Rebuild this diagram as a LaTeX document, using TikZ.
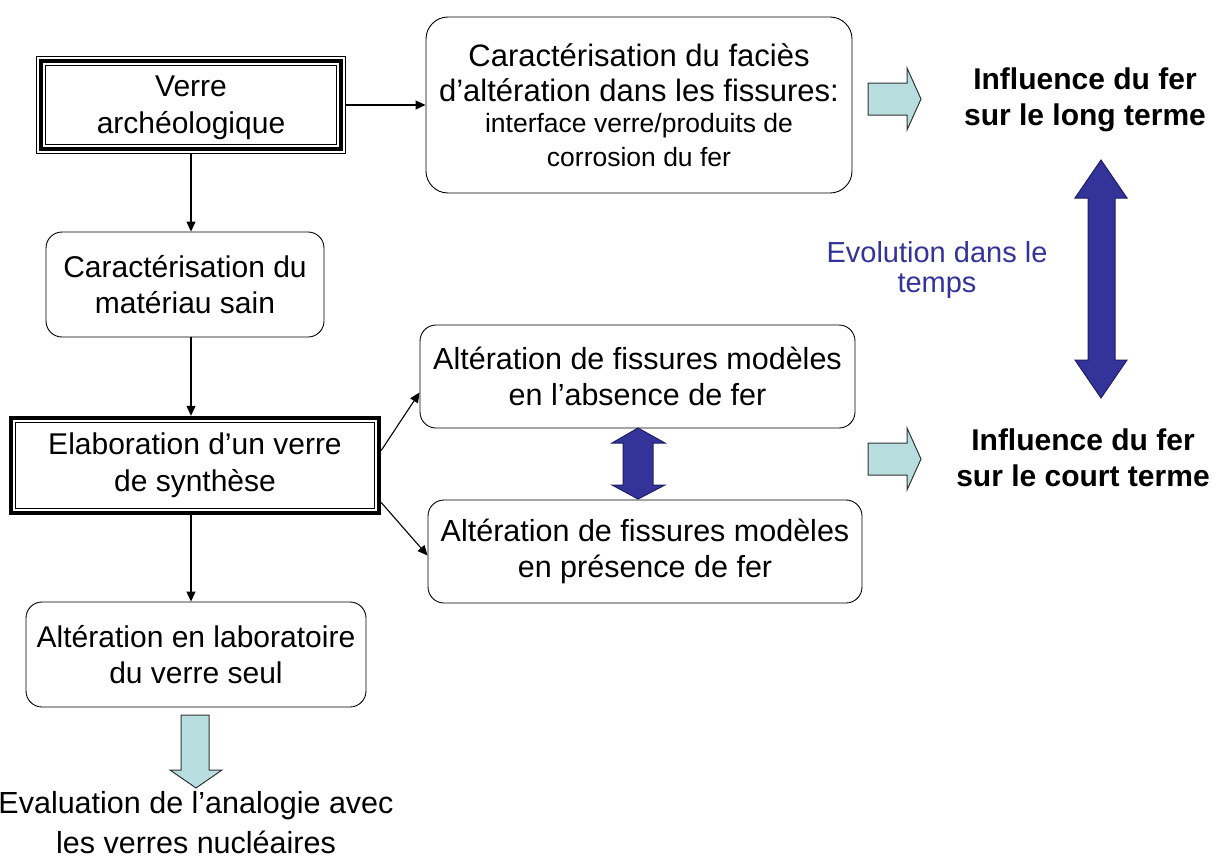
\documentclass[tikz,border=0pt]{standalone}
\usepackage{fontspec}
\setmainfont{Liberation Sans}
\usetikzlibrary{arrows.meta}
\definecolor{cyanfill}{HTML}{B8DEDF}
\definecolor{navyblue}{HTML}{333399}
\definecolor{navyline}{HTML}{1F1F66}
\begin{document}
\begin{tikzpicture}[x=1pt,y=-1pt,
  roundbox/.style={draw=black, line width=0.9pt, rounded corners=16pt, align=center, inner sep=0pt, font=\fontsize{30}{36}\selectfont},
  plainbox/.style={align=center, inner sep=0pt, font=\fontsize{30}{37}\selectfont},
  conn/.style={line width=1.1pt, -{Triangle[length=10pt,width=9pt]}},
  lightarrow/.style={draw=black!80, line width=1pt, fill=cyanfill},
  bluearrow/.style={draw=navyline, line width=1pt, fill=navyblue},
  outtext/.style={align=center, inner sep=0pt},
]
\useasboundingbox (0,0) rectangle (1216,860);
\fill[white] (0,0) rectangle (1216,860);

% Verre archeologique (triple border)
\node[plainbox, minimum width=308pt, minimum height=96pt, text depth=0pt] (verre) at (191,105) {Verre\\archéologique};
\draw[line width=0.8pt] (verre.north west) rectangle (verre.south east);
\draw[line width=4pt] ([shift={(4.5pt,-4.5pt)}]verre.north west) rectangle ([shift={(-4.5pt,4.5pt)}]verre.south east);
\draw[line width=0.8pt] ([shift={(8.5pt,-8.5pt)}]verre.north west) rectangle ([shift={(-8.5pt,8.5pt)}]verre.south east);

% Caracterisation du facies
\node[roundbox, rounded corners=22pt, minimum width=426pt, minimum height=176pt, font=\fontsize{31}{35}\selectfont] (car) at (639,105)
  {Caractérisation du faciès\\d’altération dans les fissures:\\[-4pt]{\fontsize{26.5}{30}\selectfont interface verre/produits de}\\[-1pt]{\fontsize{26.5}{30}\selectfont corrosion du fer}};

% Caracterisation du materiau sain
\node[roundbox, minimum width=278pt, minimum height=105pt] (mat) at (185,284.5) {Caractérisation du\\matériau sain};

% Elaboration (thick-thin border)
\node[plainbox, minimum width=372pt, minimum height=99pt] (elab) at (195,465.5) {Elaboration d’un verre\\de synthèse};
\draw[line width=4.5pt] ([shift={(2.25pt,-2.25pt)}]elab.north west) rectangle ([shift={(-2.25pt,2.25pt)}]elab.south east);
\draw[line width=0.8pt] ([shift={(6.5pt,-6.5pt)}]elab.north west) rectangle ([shift={(-6.5pt,6.5pt)}]elab.south east);

% Alteration boxes
\node[roundbox, minimum width=435pt, minimum height=103pt, font=\fontsize{30.5}{36}\selectfont] (abs) at (637.5,376.5) {Altération de fissures modèles\\en l’absence de fer};
\node[roundbox, minimum width=434pt, minimum height=103pt, font=\fontsize{30.5}{36}\selectfont] (pres) at (645,551.5) {Altération de fissures modèles\\en présence de fer};
\node[roundbox, minimum width=340pt, minimum height=105pt] (labo) at (196,654.5) {Altération en laboratoire\\du verre seul};

% Text outputs
\node[outtext, font=\bfseries\fontsize{30}{36}\selectfont] (long) at (1085,100) {Influence du fer\\sur le long terme};
\node[outtext, font=\bfseries\fontsize{30}{36}\selectfont] (court) at (1083,458) {Influence du fer\\sur le court terme};
\node[outtext, text=navyblue, font=\fontsize{29}{30}\selectfont] (evol) at (937,270) {Evolution dans le\\temps};
\node[outtext, font=\fontsize{30.5}{40}\selectfont] (eval) at (196,823) {Evaluation de l’analogie avec\\les verres nucléaires};

% Connectors
\draw[conn] (verre.east) -- (car.west);
\draw[conn] (verre.south) -- (verre.south |- mat.north);
\draw[conn] (verre.south |- mat.south) -- (verre.south |- elab.north);
\draw[conn] (verre.south |- elab.south) -- (verre.south |- labo.north);
\draw[conn] ([yshift=15pt]elab.east) -- ([yshift=-16pt]abs.west);
\draw[conn] ([yshift=-37pt]elab.east) -- ([yshift=-4pt]pres.west);

% Light block arrows
\draw[lightarrow] (868,83) -- (907,83) -- (907,68) -- (921,99) -- (907,130) -- (907,115) -- (868,115) -- cycle;
\draw[lightarrow] (868,443) -- (907,443) -- (907,428) -- (921,459) -- (907,490) -- (907,475) -- (868,475) -- cycle;
\draw[lightarrow] (181,715) -- (209,715) -- (209,770) -- (222,770) -- (196,788) -- (170,770) -- (181,770) -- cycle;

% Blue double arrows
\draw[bluearrow] (1101,160) -- (1127,198) -- (1115,198) -- (1115,360) -- (1127,360) -- (1101,398) -- (1075,360) -- (1088,360) -- (1088,198) -- (1075,198) -- cycle;
\draw[bluearrow] (638,428) -- (665,443) -- (653,443) -- (653,485) -- (665,485) -- (638,499) -- (612,485) -- (623,485) -- (623,443) -- (612,443) -- cycle;
\end{tikzpicture}
\end{document}
